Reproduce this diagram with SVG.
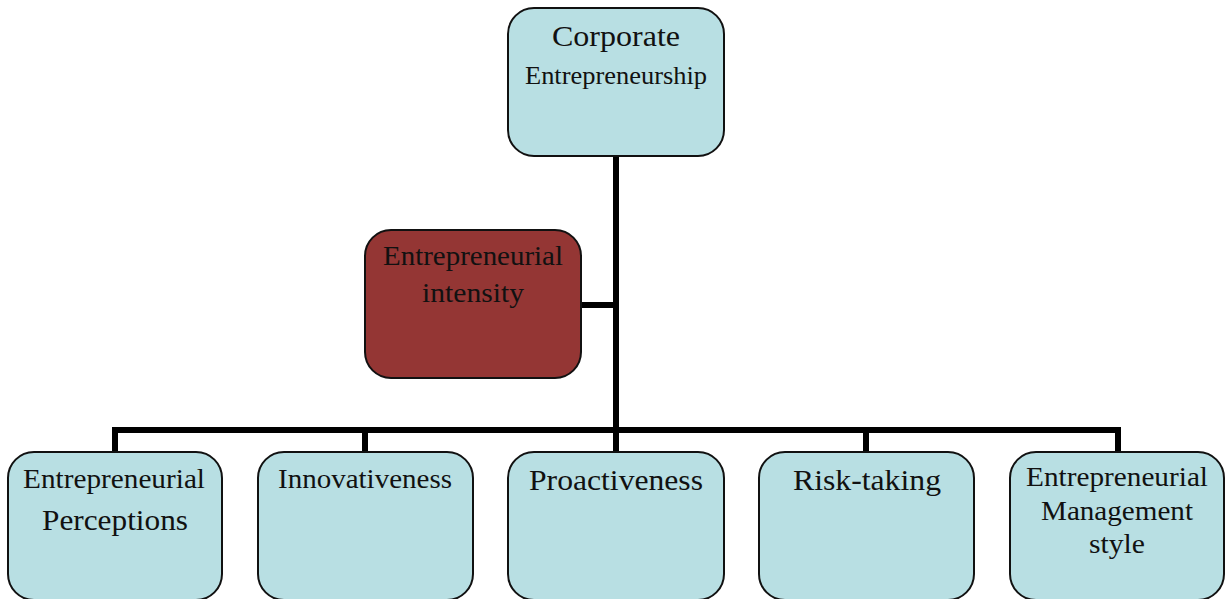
<svg xmlns="http://www.w3.org/2000/svg" width="1225" height="599" viewBox="0 0 1225 599">
  <style>
    .box { fill: #b8dfe3; stroke: #111; stroke-width: 2; }
    .red { fill: #943634; stroke: #111; stroke-width: 2; }
    .lbl { font-family: "Liberation Serif", "Times New Roman", serif; fill: #111; text-anchor: middle; }
    .conn { fill: none; stroke: #000; stroke-width: 6; }
  </style>
  <rect width="1225" height="599" fill="#fff"/>

  <g id="connectors">
    <path class="conn" d="M616 156 V430"/>
    <path class="conn" d="M581 305 H616"/>
    <path class="conn" d="M115 452 V430 H1118 V452"/>
    <path class="conn" d="M365 430 V452"/>
    <path class="conn" d="M616 430 V452"/>
    <path class="conn" d="M866 430 V452"/>
  </g>

  <g id="corporate-entrepreneurship">
    <rect class="box" x="508" y="8" width="216" height="148" rx="26"/>
    <text class="lbl" x="616" y="46" font-size="30" textLength="128" lengthAdjust="spacingAndGlyphs">Corporate</text>
    <text class="lbl" x="616" y="84" font-size="25" textLength="182" lengthAdjust="spacingAndGlyphs">Entrepreneurship</text>
  </g>

  <g id="entrepreneurial-intensity">
    <rect class="red" x="365" y="230" width="216" height="148" rx="26"/>
    <text class="lbl" x="473" y="265" font-size="28" textLength="180" lengthAdjust="spacingAndGlyphs">Entrepreneurial</text>
    <text class="lbl" x="473" y="302" font-size="28" textLength="102" lengthAdjust="spacingAndGlyphs">intensity</text>
  </g>

  <g id="entrepreneurial-perceptions">
    <rect class="box" x="8" y="452" width="214" height="148" rx="26"/>
    <text class="lbl" x="114" y="488" font-size="28" textLength="182" lengthAdjust="spacingAndGlyphs">Entrepreneurial</text>
    <text class="lbl" x="115" y="530" font-size="30" textLength="146" lengthAdjust="spacingAndGlyphs">Perceptions</text>
  </g>

  <g id="innovativeness">
    <rect class="box" x="258" y="452" width="215" height="148" rx="26"/>
    <text class="lbl" x="365" y="488" font-size="28" textLength="174" lengthAdjust="spacingAndGlyphs">Innovativeness</text>
  </g>

  <g id="proactiveness">
    <rect class="box" x="508" y="452" width="216" height="148" rx="26"/>
    <text class="lbl" x="616" y="490" font-size="30" textLength="174" lengthAdjust="spacingAndGlyphs">Proactiveness</text>
  </g>

  <g id="risk-taking">
    <rect class="box" x="759" y="452" width="215" height="148" rx="26"/>
    <text class="lbl" x="867" y="490" font-size="30" textLength="148" lengthAdjust="spacingAndGlyphs">Risk-taking</text>
  </g>

  <g id="entrepreneurial-management-style">
    <rect class="box" x="1010" y="452" width="214" height="148" rx="26"/>
    <text class="lbl" x="1117" y="486" font-size="28" textLength="182" lengthAdjust="spacingAndGlyphs">Entrepreneurial</text>
    <text class="lbl" x="1117" y="520" font-size="28" textLength="152" lengthAdjust="spacingAndGlyphs">Management</text>
    <text class="lbl" x="1117" y="553" font-size="28" textLength="56" lengthAdjust="spacingAndGlyphs">style</text>
  </g>
</svg>
